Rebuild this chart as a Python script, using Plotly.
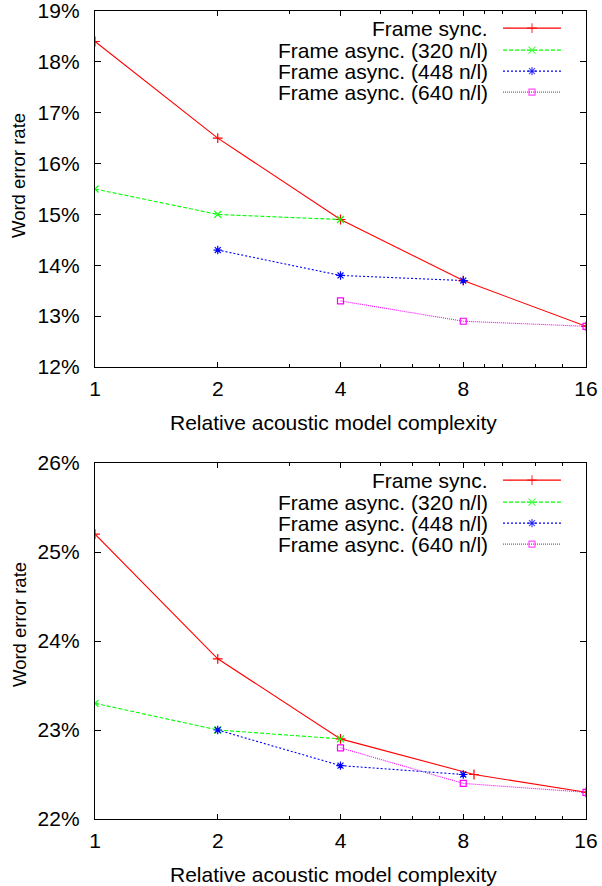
import plotly.graph_objects as go

# ---------------- data ----------------
series_names = ["Frame sync.", "Frame async. (320 n/l)", "Frame async. (448 n/l)", "Frame async. (640 n/l)"]

# Top chart
top_sync_x = [1, 2, 4, 8, 16]
top_sync_y = [18.4, 16.5, 14.9, 13.7, 12.8]
top_a320_x = [1, 2, 4]
top_a320_y = [15.5, 15.0, 14.9]
top_a448_x = [2, 4, 8]
top_a448_y = [14.3, 13.8, 13.7]
top_a640_x = [4, 8, 16]
top_a640_y = [13.3, 12.9, 12.8]

# Bottom chart
bot_sync_x = [1, 2, 4, 8.5, 16]
bot_sync_y = [25.2, 23.8, 22.9, 22.5, 22.3]
bot_a320_x = [1, 2, 4]
bot_a320_y = [23.3, 23.0, 22.9]
bot_a448_x = [2, 4, 8]
bot_a448_y = [23.0, 22.6, 22.5]
bot_a640_x = [4, 8, 16]
bot_a640_y = [22.8, 22.4, 22.3]

x_tick_vals = [1, 2, 4, 8, 16]
x_tick_text = ["1", "2", "4", "8", "16"]
x_minor_vals = [3, 5, 6, 7, 9, 10, 12, 14]
top_y_ticks = [12, 13, 14, 15, 16, 17, 18, 19]
bot_y_ticks = [22, 23, 24, 25, 26]

x_title = "Relative acoustic model complexity"
y_title = "Word error rate"

# ---------------- styles ----------------
colors = ["#ff0000", "#00ff00", "#0000ff", "#ff00ff"]
dashes = ["solid", "4px,2px", "2px,2px", "1px,1px"]
symbols = ["cross-thin", "x-thin", "asterisk", "square-open"]
FONT = "Liberation Sans, Arial, Helvetica, sans-serif"
FS = 21
FS_Y = 18.5

fig = go.Figure()

def add_series(xs_list, ys_list, xa, ya):
    for i, (xs, ys) in enumerate(zip(xs_list, ys_list)):
        fig.add_trace(go.Scatter(
            x=xs, y=ys, mode="lines+markers", xaxis=xa, yaxis=ya,
            name=series_names[i], showlegend=False,
            line=dict(color=colors[i], width=1.1, dash=dashes[i]),
            marker=dict(symbol=symbols[i], size=7 if i != 3 else 6,
                        color=colors[i], line=dict(color=colors[i], width=1.2)),
        ))

add_series([top_sync_x, top_a320_x, top_a448_x, top_a640_x],
           [top_sync_y, top_a320_y, top_a448_y, top_a640_y], "x", "y")
add_series([bot_sync_x, bot_a320_x, bot_a448_x, bot_a640_x],
           [bot_sync_y, bot_a320_y, bot_a448_y, bot_a640_y], "x2", "y2")

# legend samples drawn on hidden overlay axes (0..1 over the plot area)
leg_rows = [0.952, 0.890, 0.831, 0.772]
leg_x0, leg_xm, leg_x1 = 0.831, 0.890, 0.949
leg_text_x = 0.8045
for xa, ya, xd, yd in [("x3", "y3", "x", "y"), ("x4", "y4", "x2", "y2")]:
    for i, ry in enumerate(leg_rows):
        fig.add_trace(go.Scatter(
            x=[leg_x0, leg_xm, leg_x1], y=[ry, ry, ry], mode="lines+markers",
            xaxis=xa, yaxis=ya, showlegend=False, hoverinfo="skip",
            line=dict(color=colors[i], width=1.1, dash=dashes[i]),
            marker=dict(symbol=symbols[i], size=[0, 7 if i != 3 else 6, 0],
                        color=colors[i], line=dict(color=colors[i], width=1.2)),
        ))
        fig.add_annotation(
            text=series_names[i], xref=xd + " domain", yref=yd + " domain",
            x=leg_text_x, y=ry, xanchor="right", yanchor="middle",
            showarrow=False, font=dict(family=FONT, size=FS, color="black"))

# ---------------- layout ----------------
W, H = 602, 886
def px_x(p):
    return p / W
def px_y(p):
    return 1 - p / H

x_dom = [px_x(95), px_x(586)]
top_dom = [px_y(367), px_y(11)]
bot_dom = [px_y(819), px_y(463)]

def xaxis_cfg(anchor):
    return dict(
        type="log", range=[0, 1.2041199826559248], domain=x_dom, anchor=anchor,
        tickmode="array", tickvals=x_tick_vals, ticktext=x_tick_text,
        ticks="inside", ticklen=5, tickwidth=1, tickcolor="black",
        minor=dict(tickmode="array", tickvals=x_minor_vals, ticks="inside", ticklen=3,
                   tickwidth=1, tickcolor="black"),
        showline=True, linecolor="black", linewidth=1.3, mirror="ticks",
        showgrid=False, zeroline=False, ticklabelstandoff=3, automargin=False,
        ticklabeloverflow="allow",
        tickfont=dict(family=FONT, size=FS, color="black"),
    )

def yaxis_cfg(anchor, dom, ticks):
    return dict(
        range=[ticks[0], ticks[-1]], domain=dom, anchor=anchor,
        tickmode="array", tickvals=ticks, ticktext=[f"{v}%" for v in ticks],
        ticks="inside", ticklen=6, tickwidth=1, tickcolor="black",
        showline=True, linecolor="black", linewidth=1.3, mirror="ticks",
        showgrid=False, zeroline=False, ticklabelstandoff=10, automargin=False,
        ticklabeloverflow="allow",
        tickfont=dict(family=FONT, size=FS, color="black"),
    )

fig.update_layout(
    width=W, height=H, margin=dict(l=0, r=0, t=0, b=0, autoexpand=False),
    paper_bgcolor="white", plot_bgcolor="white",
    font=dict(family=FONT, size=FS, color="black"),
    xaxis=xaxis_cfg("y"), yaxis=yaxis_cfg("x", top_dom, top_y_ticks),
    xaxis2=xaxis_cfg("y2"), yaxis2=yaxis_cfg("x2", bot_dom, bot_y_ticks),
    xaxis3=dict(range=[0, 1], domain=x_dom, overlaying="x", anchor="y3", visible=False, automargin=False),
    yaxis3=dict(range=[0, 1], domain=top_dom, overlaying="y", anchor="x3", visible=False, automargin=False),
    xaxis4=dict(range=[0, 1], domain=x_dom, overlaying="x2", anchor="y4", visible=False, automargin=False),
    yaxis4=dict(range=[0, 1], domain=bot_dom, overlaying="y2", anchor="x4", visible=False, automargin=False),
)

# axis titles
for bottom_px, center_px in [(367, 176), (819, 625)]:
    fig.add_annotation(text=x_title, xref="paper", yref="paper",
                       x=px_x(333), y=px_y(bottom_px + 55), xanchor="center", yanchor="middle",
                       showarrow=False, font=dict(family=FONT, size=FS, color="black"))
    fig.add_annotation(text=y_title, xref="paper", yref="paper", textangle=-90,
                       x=px_x(19), y=px_y(center_px), xanchor="center", yanchor="middle",
                       showarrow=False, font=dict(family=FONT, size=FS_Y, color="black"))

fig.write_html(
    "out.html",
    config={"displayModeBar": False},
    post_script="document.body.style.margin='0';document.body.style.overflow='hidden';",
)
